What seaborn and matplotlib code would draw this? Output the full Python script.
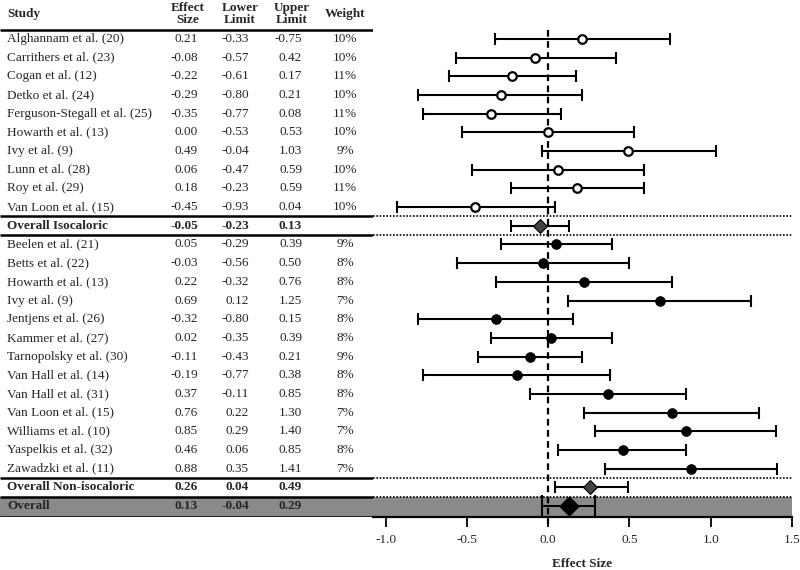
import matplotlib
matplotlib.use("Agg")
import matplotlib.pyplot as plt
import seaborn as sns
import numpy as np
import pandas as pd

# ---------------- data ----------------
iso_studies = ["Alghannam et al. (20)", "Carrithers et al. (23)", "Cogan et al. (12)",
               "Detko et al. (24)", "Ferguson-Stegall et al. (25)", "Howarth et al. (13)",
               "Ivy et al. (9)", "Lunn et al. (28)", "Roy et al. (29)", "Van Loon et al. (15)"]
iso_es = [0.21, -0.08, -0.22, -0.29, -0.35, 0.00, 0.49, 0.06, 0.18, -0.45]
iso_lo = [-0.33, -0.57, -0.61, -0.80, -0.77, -0.53, -0.04, -0.47, -0.23, -0.93]
iso_hi = [0.75, 0.42, 0.17, 0.21, 0.08, 0.53, 1.03, 0.59, 0.59, 0.04]
iso_hi_text = ["-0.75", "0.42", "0.17", "0.21", "0.08", "0.53", "1.03", "0.59", "0.59", "0.04"]
iso_w = ["10%", "10%", "11%", "10%", "11%", "10%", "9%", "10%", "11%", "10%"]

non_studies = ["Beelen et al. (21)", "Betts et al. (22)", "Howarth et al. (13)", "Ivy et al. (9)",
               "Jentjens et al. (26)", "Kammer et al. (27)", "Tarnopolsky et al. (30)",
               "Van Hall et al. (14)", "Van Hall et al. (31)", "Van Loon et al. (15)",
               "Williams et al. (10)", "Yaspelkis et al. (32)", "Zawadzki et al. (11)"]
non_es = [0.05, -0.03, 0.22, 0.69, -0.32, 0.02, -0.11, -0.19, 0.37, 0.76, 0.85, 0.46, 0.88]
non_lo = [-0.29, -0.56, -0.32, 0.12, -0.80, -0.35, -0.43, -0.77, -0.11, 0.22, 0.29, 0.06, 0.35]
non_hi = [0.39, 0.50, 0.76, 1.25, 0.15, 0.39, 0.21, 0.38, 0.85, 1.30, 1.40, 0.85, 1.41]
non_w = ["9%", "8%", "8%", "7%", "8%", "8%", "9%", "8%", "8%", "7%", "7%", "8%", "7%"]

summ_labels = ["Overall Isocaloric", "Overall Non-isocaloric", "Overall"]
summ_es = [-0.05, 0.26, 0.13]
summ_lo = [-0.23, 0.04, -0.04]
summ_hi = [0.13, 0.49, 0.29]

xticks = [-1.0, -0.5, 0.0, 0.5, 1.0, 1.5]

# ---------------- layout ----------------
sns.set_theme(style="ticks")
plt.rcParams["font.family"] = ["Liberation Serif", "DejaVu Serif"]
plt.rcParams["axes.unicode_minus"] = False

W, H = 800, 570
fig = plt.figure(figsize=(8, 5.7), dpi=100)
split = 373
bottom_px = 517
ax_l = fig.add_axes([0, (H - bottom_px) / H, split / W, bottom_px / H])
ax = fig.add_axes([split / W, (H - bottom_px) / H, (792 - split) / W, bottom_px / H])

y_bot, y_top = 26.59, -1.088
for a in (ax_l, ax):
    a.set_ylim(y_bot, y_top)
    a.set_facecolor("white")
ax_l.set_xlim(0, split)
ax.set_xlim(-1.078, 1.5)

iso_y = np.arange(1, 11)
non_y = np.arange(12, 25)
summ_y = np.array([11, 25, 26])

grey = "#8a8a8a"
for a in (ax_l, ax):
    a.axhspan(25.5, y_bot, color=grey, zorder=0, lw=0)

# separator lines
for yy in [0.5, 10.5, 11.5, 24.5, 25.5]:
    ax_l.plot([0, split], [yy, yy], color="black", lw=1.8, solid_capstyle="butt")
for yy in [10.5, 11.5, 24.5, 25.5]:
    ax.plot([-1.078, 1.5], [yy, yy], color="black", lw=1.2, ls=(0, (1, 1)))
ax_l.plot([0, split], [y_bot - 0.02, y_bot - 0.02], color="black", lw=1.8)

# zero reference
ax.plot([0, 0], [0.5, y_bot + 0.4], color="black", lw=1.6, ls=(0, (3, 2)), zorder=1, clip_on=False)

# error bars
eb = dict(fmt="none", ecolor="black", elinewidth=1.5, capthick=1.5, zorder=3)
ax.errorbar(iso_es, iso_y, xerr=[np.array(iso_es) - np.array(iso_lo), np.array(iso_hi) - np.array(iso_es)],
            capsize=4, **eb)
ax.errorbar(non_es, non_y, xerr=[np.array(non_es) - np.array(non_lo), np.array(non_hi) - np.array(non_es)],
            capsize=4, **eb)
ax.errorbar(summ_es[:2], summ_y[:2],
            xerr=[np.array(summ_es[:2]) - np.array(summ_lo[:2]), np.array(summ_hi[:2]) - np.array(summ_es[:2])],
            capsize=4.5, **eb)
ax.errorbar([summ_es[2]], [summ_y[2]], xerr=[[summ_es[2] - summ_lo[2]], [summ_hi[2] - summ_es[2]]],
            capsize=8, **eb)

# points
df_iso = pd.DataFrame({"es": iso_es, "y": iso_y})
df_non = pd.DataFrame({"es": non_es, "y": non_y})
df_sum = pd.DataFrame({"es": summ_es[:2], "y": summ_y[:2]})
df_all = pd.DataFrame({"es": summ_es[2:], "y": summ_y[2:]})
sns.scatterplot(data=df_iso, x="es", y="y", ax=ax, marker="o", s=38, color="white",
                edgecolor="black", linewidth=1.6, zorder=4, legend=False)
sns.scatterplot(data=df_non, x="es", y="y", ax=ax, marker="o", s=50, color="black",
                edgecolor="black", linewidth=0.5, zorder=4, legend=False)
sns.scatterplot(data=df_sum, x="es", y="y", ax=ax, marker="D", s=50, color="#444444",
                edgecolor="black", linewidth=0.8, zorder=4, legend=False)
sns.scatterplot(data=df_all, x="es", y="y", ax=ax, marker="D", s=100, color="black",
                edgecolor="black", linewidth=0.5, zorder=4, legend=False)

# axis styling
ax.set_ylim(y_bot, y_top)
ax.set_xlim(-1.078, 1.5)
ax.set_yticks([])
ax.set_ylabel("")
ax.set_xticks(xticks)
ax.set_xticklabels([f"{t:.1f}" for t in xticks], fontsize=9.5)
ax.set_xlabel("Effect Size", fontsize=9.5, fontweight="bold", labelpad=9)
for s in ["top", "right", "left"]:
    ax.spines[s].set_visible(False)
ax.spines["bottom"].set_linewidth(1.6)
ax.spines["bottom"].set_color("black")
ax.tick_params(axis="x", direction="out", length=7, width=1.3, color="black", pad=5)
ax_l.axis("off")

# table text
fs = 9.5
col_es, col_lo, col_hi, col_w = 198, 249, 302, 345
ax_l.text(7, -0.35, "Study", fontsize=fs, fontweight="bold", ha="left", va="center")
ax_l.text(188, -0.35, "Effect\nSize", fontsize=fs, fontweight="bold", ha="center", va="center", linespacing=1.0)
ax_l.text(240, -0.35, "Lower\nLimit", fontsize=fs, fontweight="bold", ha="center", va="center", linespacing=1.0)
ax_l.text(292, -0.35, "Upper\nLimit", fontsize=fs, fontweight="bold", ha="center", va="center", linespacing=1.0)
ax_l.text(col_w, -0.35, "Weight", fontsize=fs, fontweight="bold", ha="center", va="center")


def row(y, name, es, lo, hi_txt, w, bold=False):
    fw = "bold" if bold else "normal"
    ax_l.text(7, y, name, fontsize=fs, fontweight=fw, ha="left", va="center")
    ax_l.text(col_es, y, f"{es:.2f}", fontsize=fs, fontweight=fw, ha="right", va="center")
    ax_l.text(col_lo, y, f"{lo:.2f}", fontsize=fs, fontweight=fw, ha="right", va="center")
    ax_l.text(col_hi, y, hi_txt, fontsize=fs, fontweight=fw, ha="right", va="center")
    if w:
        ax_l.text(col_w, y, w, fontsize=fs, fontweight=fw, ha="center", va="center")


for i in range(len(iso_studies)):
    row(iso_y[i], iso_studies[i], iso_es[i], iso_lo[i], iso_hi_text[i], iso_w[i])
for i in range(len(non_studies)):
    row(non_y[i], non_studies[i], non_es[i], non_lo[i], f"{non_hi[i]:.2f}", non_w[i])
for i in range(3):
    row(summ_y[i], summ_labels[i], summ_es[i], summ_lo[i], f"{summ_hi[i]:.2f}", "", bold=True)

fig.savefig("out.png", dpi=100)
